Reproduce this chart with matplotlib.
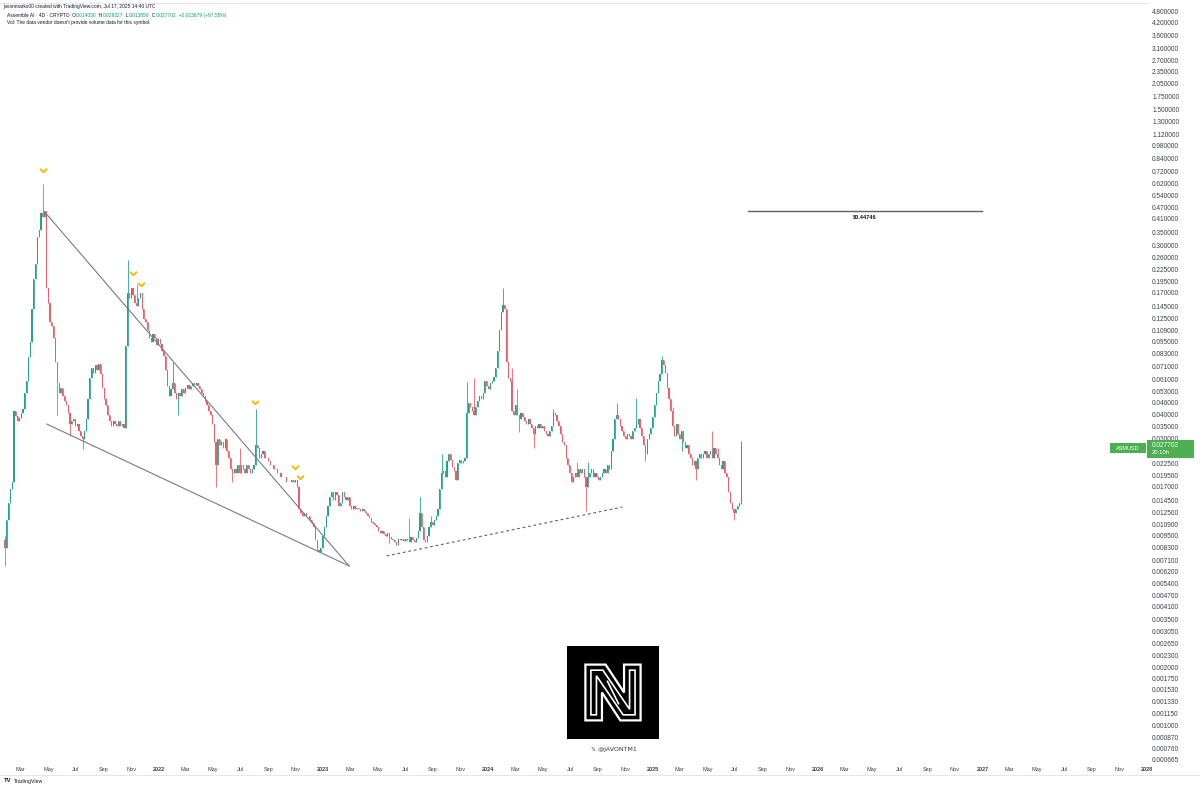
import numpy as np
import pandas as pd
import matplotlib
matplotlib.use("Agg")
import matplotlib.pyplot as plt
import matplotlib.dates as mdates
from matplotlib.path import Path
from matplotlib.patches import Rectangle, Polygon
from matplotlib.ticker import NullLocator

plt.rcParams['font.family'] = ['Liberation Sans', 'DejaVu Sans']

# ---- data (4D candles) ----
first_candle = "2021-01-25"
first_open = 0.0090
closes = [
    0.0082, 0.0115, 0.0140, 0.0165, 0.0180, 0.0420, 0.0395, 0.0370, 0.0385, 0.0410,
    0.0430, 0.0520, 0.0600, 0.0790, 0.0950, 0.1400, 0.2000, 0.2400, 0.3300, 0.3600,
    0.4400, 0.4200, 0.4500, 0.1800, 0.1500, 0.1200, 0.1150, 0.1000, 0.0750, 0.0580,
    0.0520, 0.0550, 0.0500, 0.0470, 0.0450, 0.0410, 0.0360, 0.0370, 0.0380, 0.0350,
    0.0360, 0.0330, 0.0310, 0.0300, 0.0330, 0.0380, 0.0480, 0.0620, 0.0700, 0.0660,
    0.0720, 0.0680, 0.0730, 0.0650, 0.0550, 0.0480, 0.0450, 0.0400, 0.0370, 0.0350,
    0.0370, 0.0360, 0.0350, 0.0370, 0.0350, 0.0360, 0.0340, 0.0900, 0.1700, 0.1600,
    0.1800, 0.1650, 0.1500, 0.1450, 0.1600, 0.1700, 0.1400, 0.1250, 0.1200, 0.1100,
    0.1000, 0.0950, 0.1050, 0.1000, 0.0920, 0.0980, 0.0930, 0.0850, 0.0800, 0.0680,
    0.0560, 0.0500, 0.0540, 0.0580, 0.0520, 0.0480, 0.0520, 0.0500, 0.0540, 0.0520,
    0.0550, 0.0570, 0.0540, 0.0560, 0.0580, 0.0570, 0.0580, 0.0560, 0.0540, 0.0520,
    0.0500, 0.0470, 0.0450, 0.0420, 0.0400, 0.0360, 0.0290, 0.0220, 0.0300, 0.0280,
    0.0290, 0.0270, 0.0300, 0.0260, 0.0240, 0.0210, 0.0200, 0.0210, 0.0200, 0.0220,
    0.0200, 0.0220, 0.0210, 0.0200, 0.0220, 0.0210, 0.0200, 0.0210, 0.0220, 0.0280,
    0.0270, 0.0240, 0.0250, 0.0260, 0.0240, 0.0240, 0.0230, 0.0220, 0.0220, 0.0210,
    0.0210, 0.0200, 0.0200, 0.0190, 0.0190, 0.0190, 0.0180, 0.0180, 0.0180, 0.0185,
    0.0180, 0.0185, 0.0170, 0.0130, 0.0125, 0.0120, 0.0125, 0.0120, 0.0120, 0.0115,
    0.0110, 0.0105, 0.0090, 0.0080, 0.0078, 0.0082, 0.0095, 0.0105, 0.0120, 0.0135,
    0.0150, 0.0160, 0.0145, 0.0160, 0.0155, 0.0135, 0.0140, 0.0160, 0.0150, 0.0145,
    0.0150, 0.0135, 0.0130, 0.0135, 0.0130, 0.0132, 0.0130, 0.0128, 0.0130, 0.0128,
    0.0125, 0.0120, 0.0118, 0.0112, 0.0110, 0.0108, 0.0105, 0.0100, 0.0098, 0.0100,
    0.0097, 0.0095, 0.0098, 0.0094, 0.0092, 0.0090, 0.0088, 0.0085, 0.0092, 0.0090,
    0.0092, 0.0089, 0.0091, 0.0090, 0.0088, 0.0094, 0.0090, 0.0088, 0.0093, 0.0100,
    0.0125, 0.0105, 0.0090, 0.0088, 0.0095, 0.0105, 0.0112, 0.0108, 0.0115, 0.0120,
    0.0130, 0.0165, 0.0200, 0.0205, 0.0190, 0.0230, 0.0250, 0.0235, 0.0215, 0.0205,
    0.0185, 0.0225, 0.0235, 0.0225, 0.0230, 0.0240, 0.0410, 0.0460, 0.0440, 0.0420,
    0.0400, 0.0440, 0.0470, 0.0500, 0.0480, 0.0520, 0.0600, 0.0560, 0.0540, 0.0580,
    0.0600, 0.0630, 0.0700, 0.0850, 0.1100, 0.1350, 0.1470, 0.1400, 0.0750, 0.0620,
    0.0600, 0.0420, 0.0400, 0.0450, 0.0400, 0.0380, 0.0410, 0.0390, 0.0370, 0.0360,
    0.0380, 0.0360, 0.0340, 0.0320, 0.0350, 0.0340, 0.0360, 0.0340, 0.0350, 0.0330,
    0.0320, 0.0310, 0.0330, 0.0350, 0.0410, 0.0400, 0.0370, 0.0350, 0.0320, 0.0290,
    0.0280, 0.0240, 0.0220, 0.0200, 0.0180, 0.0190, 0.0200, 0.0190, 0.0210, 0.0200,
    0.0210, 0.0190, 0.0170, 0.0190, 0.0200, 0.0210, 0.0190, 0.0200, 0.0190, 0.0185,
    0.0190, 0.0200, 0.0210, 0.0200, 0.0220, 0.0210, 0.0260, 0.0300, 0.0380, 0.0400,
    0.0380, 0.0350, 0.0330, 0.0310, 0.0300, 0.0320, 0.0310, 0.0300, 0.0330, 0.0340,
    0.0360, 0.0380, 0.0340, 0.0310, 0.0280, 0.0250, 0.0300, 0.0320, 0.0340, 0.0390,
    0.0450, 0.0520, 0.0600, 0.0650, 0.0770, 0.0720, 0.0660, 0.0550, 0.0480, 0.0420,
    0.0350, 0.0310, 0.0360, 0.0320, 0.0300, 0.0330, 0.0290, 0.0270, 0.0280, 0.0250,
    0.0240, 0.0220, 0.0230, 0.0210, 0.0240, 0.0250, 0.0240, 0.0250, 0.0260, 0.0240,
    0.0250, 0.0260, 0.0240, 0.0270, 0.0250, 0.0240, 0.0220, 0.0210, 0.0230, 0.0200,
    0.0190, 0.0160, 0.0140, 0.0130, 0.0125, 0.0130, 0.0135, 0.0140, 0.027702,
]
# notable wicks (candle index -> price)
wick_high = {0: 0.0095, 21: 0.62, 68: 0.25, 73: 0.19, 93: 0.075, 130: 0.027, 139: 0.043,
             224: 0.0117, 230: 0.015, 236: 0.012, 242: 0.025, 256: 0.059, 260: 0.062,
             276: 0.18, 281: 0.070, 284: 0.054, 304: 0.043, 317: 0.0228, 323: 0.0228,
             339: 0.046, 350: 0.049, 364: 0.080, 370: 0.044, 392: 0.033, 395: 0.027,
             408: 0.029327}
wick_low = {0: 0.0066, 29: 0.040, 36: 0.031, 43: 0.0265, 96: 0.040, 117: 0.017,
            126: 0.018, 213: 0.0087, 285: 0.0326, 293: 0.027, 322: 0.0128, 355: 0.023,
            375: 0.026, 383: 0.0185, 404: 0.0115, 408: 0.013850}

# drawn lines: (start date, start price, end date, end price)
wedge_top = ("2021-04-23", 0.445, "2023-02-27", 0.00664)
wedge_bottom = ("2021-04-28", 0.0358, "2023-02-27", 0.00664)
support_dotted = ("2023-05-21", 0.00748, "2024-10-25", 0.01338)
target_price = 0.44746
target_span = ("2025-07-30", "2026-12-31")

# yellow chevron markers
chevron_dates = ["2021-04-19", "2021-11-04", "2021-11-22", "2022-08-02", "2022-10-29", "2022-11-09"]
chevron_prices = [0.733, 0.216, 0.189, 0.0467, 0.0215, 0.019]

price_ticks = [4.8, 4.2, 3.6, 3.1, 2.7, 2.35, 2.05, 1.75, 1.5, 1.3, 1.12, 0.98, 0.84,
               0.72, 0.62, 0.54, 0.47, 0.41, 0.35, 0.30, 0.26, 0.225, 0.195, 0.17,
               0.145, 0.125, 0.109, 0.095, 0.083, 0.071, 0.061, 0.053, 0.046, 0.040,
               0.035, 0.030, 0.0225, 0.0195, 0.017, 0.0145, 0.0125, 0.0109, 0.0095,
               0.0083, 0.0071, 0.0062, 0.0054, 0.0047, 0.0041, 0.0035, 0.00305,
               0.00265, 0.0023, 0.0020, 0.00175, 0.00153, 0.00133, 0.00115, 0.0010,
               0.00087, 0.00076, 0.000665]
month_labels = {3: "Mar", 5: "May", 7: "Jul", 9: "Sep", 11: "Nov"}
tick_years = [2021, 2022, 2023, 2024, 2025, 2026, 2027, 2028]

last_close = 0.027702
symbol = "ASMUSD"
countdown = "20:10h"

UP = '#22a58f'
DOWN = '#f05d66'
TXT = '#131722'
AXTXT = '#3b3f4a'
GREEN_TXT = '#089981'

# ---- figure ----
W, H = 1200, 788
fig = plt.figure(figsize=(W / 100, H / 100), dpi=100)
fig.patch.set_facecolor('white')

def fx(px):
    return px / W

def fy(py):
    return 1 - py / H

plot_right, plot_top, plot_bottom = 1148, 3, 764
ax = fig.add_axes([0, fy(plot_bottom), fx(plot_right), (plot_bottom - plot_top) / H])
ax.set_facecolor('white')

dates = pd.date_range(first_candle, periods=len(closes), freq='4D')
xs = mdates.date2num(dates)
opens = [first_open] + closes[:-1]
highs = [max(o, c) for o, c in zip(opens, closes)]
lows = [min(o, c) for o, c in zip(opens, closes)]
for i, v in wick_high.items():
    highs[i] = v
for i, v in wick_low.items():
    lows[i] = v
cols = [UP if c >= o else DOWN for o, c in zip(opens, closes)]

ax.set_yscale('log')
ax.vlines(xs, lows, highs, colors=cols, linewidth=0.6)
ax.bar(xs, [abs(c - o) for o, c in zip(opens, closes)],
       bottom=[min(o, c) for o, c in zip(opens, closes)],
       width=2.6, color=cols, linewidth=0)

def dn(s):
    return mdates.date2num(pd.Timestamp(s))

for seg in [wedge_top, wedge_bottom]:
    ax.plot([dn(seg[0]), dn(seg[2])], [seg[1], seg[3]], color='#787b86', lw=0.8)
ax.plot([dn(support_dotted[0]), dn(support_dotted[2])], [support_dotted[1], support_dotted[3]],
        color='#5d606b', lw=0.8, ls=(0, (2.5, 2.5)))

ax.plot([dn(target_span[0]), dn(target_span[1])], [target_price, target_price],
        color='#5d606b', lw=1.0)
ax.annotate(f"${target_price:.5f}", xy=((dn(target_span[0]) + dn(target_span[1])) / 2, target_price),
            xytext=(0, -2.5), textcoords='offset points', ha='center', va='top',
            fontsize=4, fontweight='bold', color=TXT)

chev = Path([(-1, 0.5), (0, -0.5), (1, 0.5)], [Path.MOVETO, Path.LINETO, Path.LINETO])
ax.plot([dn(d) for d in chevron_dates], chevron_prices, ls='none', marker=chev, ms=5,
        mfc='none', mec='#f7b500', mew=1.3)

# axes limits (pixel-calibrated)
ax.set_xlim(dn("2021-01-14"), dn("2028-01-03"))
ax.set_ylim(0.000632, 5.32)

# x ticks
xt, xl, xbold = [], [], []
for y in tick_years:
    for m in [1, 3, 5, 7, 9, 11]:
        d = pd.Timestamp(year=y, month=m, day=1)
        if d < pd.Timestamp("2021-02-01") or d > pd.Timestamp("2028-01-02"):
            continue
        xt.append(mdates.date2num(d))
        xl.append(str(y) if m == 1 else month_labels[m])
        xbold.append(m == 1)
ax.set_xticks(xt)
ax.set_xticklabels(xl)
for t, b in zip(ax.get_xticklabels(), xbold):
    t.set_fontweight('bold' if b else 'normal')
ax.tick_params(axis='x', length=0, pad=2.5, labelsize=4, labelcolor=AXTXT)

# y ticks on the right
ax.yaxis.tick_right()
ax.set_yticks(price_ticks)
ax.set_yticklabels([f"{v:.6f}" for v in price_ticks])
ax.yaxis.set_minor_locator(NullLocator())
ax.tick_params(axis='y', length=0, pad=3, labelsize=4.7, labelcolor=AXTXT)

for s in ['left', 'right', 'bottom']:
    ax.spines[s].set_visible(False)
ax.spines['top'].set_color('#e0e3eb')
ax.spines['top'].set_linewidth(0.6)

# price label on the axis
fig.add_artist(Rectangle((fx(1110), fy(453)), fx(1146) - fx(1110), (453 - 443) / H,
                         transform=fig.transFigure, color='#4caf50', lw=0))
fig.text(fx(1128), fy(448), symbol, ha='center', va='center', fontsize=4, color='white')
fig.add_artist(Rectangle((fx(1147), fy(458)), fx(1194) - fx(1147), (458 - 440) / H,
                         transform=fig.transFigure, color='#4caf50', lw=0))
fig.text(fx(1152), fy(445), f"{last_close:.6f}", ha='left', va='center', fontsize=4.7, color='white')
fig.text(fx(1152), fy(453), countdown, ha='left', va='center', fontsize=4.2, color='white')

# header
renderer = fig.canvas.get_renderer()

def text_run(x_px, y_px, pieces, size):
    # y_px is the baseline row
    x = x_px
    for s, c in pieces:
        t = fig.text(fx(x), fy(y_px), s, ha='left', va='baseline', fontsize=size, color=c)
        x += t.get_window_extent(renderer).width

text_run(3, 8, [("javonmarks00 created with TradingView.com, Jul 17, 2025 14:40 UTC", TXT)], 3.5)
text_run(7, 17, [("Assemble AI · 4D · CRYPTO  O", TXT), ("0.014030", GREEN_TXT),
                 ("  H", TXT), ("0.029327", GREEN_TXT), ("  L", TXT), ("0.013850", GREEN_TXT),
                 ("  C", TXT), ("0.027702", GREEN_TXT), ("  +0.013679 (+97.55%)", GREEN_TXT)], 3.5)
text_run(7, 24, [("Vol: The data vendor doesn't provide volume data for this symbol.", TXT)], 3.5)

# watermark logo
lax = fig.add_axes([fx(567), fy(739), fx(659) - fx(567), (739 - 646) / H])
lax.set_xlim(0, 1)
lax.set_ylim(0, 1)
lax.axis('off')
lax.add_patch(Rectangle((0, 0), 1, 1, color='black'))
n_outer = [(0.2, 0.2), (0.2, 0.8), (0.42, 0.8), (0.62, 0.5), (0.62, 0.8), (0.8, 0.8),
           (0.8, 0.2), (0.58, 0.2), (0.38, 0.5), (0.38, 0.2)]
lax.add_patch(Polygon(n_outer, closed=True, fill=False, edgecolor='white', lw=1.6))
n_inner = [(0.26, 0.26), (0.26, 0.74), (0.39, 0.74), (0.68, 0.32), (0.68, 0.74), (0.74, 0.74),
           (0.74, 0.26), (0.61, 0.26), (0.32, 0.68), (0.32, 0.26)]
lax.add_patch(Polygon(n_inner, closed=True, fill=False, edgecolor='white', lw=1.2))
lax.plot([0.44, 0.56], [0.62, 0.38], color='white', lw=1.2)
fig.text(fx(614), fy(749), "𝕏 @JAVONTM1", ha='center', va='center', fontsize=4.5,
         color='#333333', family=['DejaVu Sans', 'Noto Sans'])

# footer
fig.add_artist(plt.Line2D([0, 1], [fy(775), fy(775)], transform=fig.transFigure,
                          color='#e0e3eb', lw=0.6))
fig.text(fx(4), fy(781), "TV", ha='left', va='center', fontsize=4.2, fontweight='bold', color=TXT)
fig.text(fx(14), fy(781), "TradingView", ha='left', va='center', fontsize=3.8, color=TXT)

fig.savefig('out.png', dpi=100, facecolor='white')
